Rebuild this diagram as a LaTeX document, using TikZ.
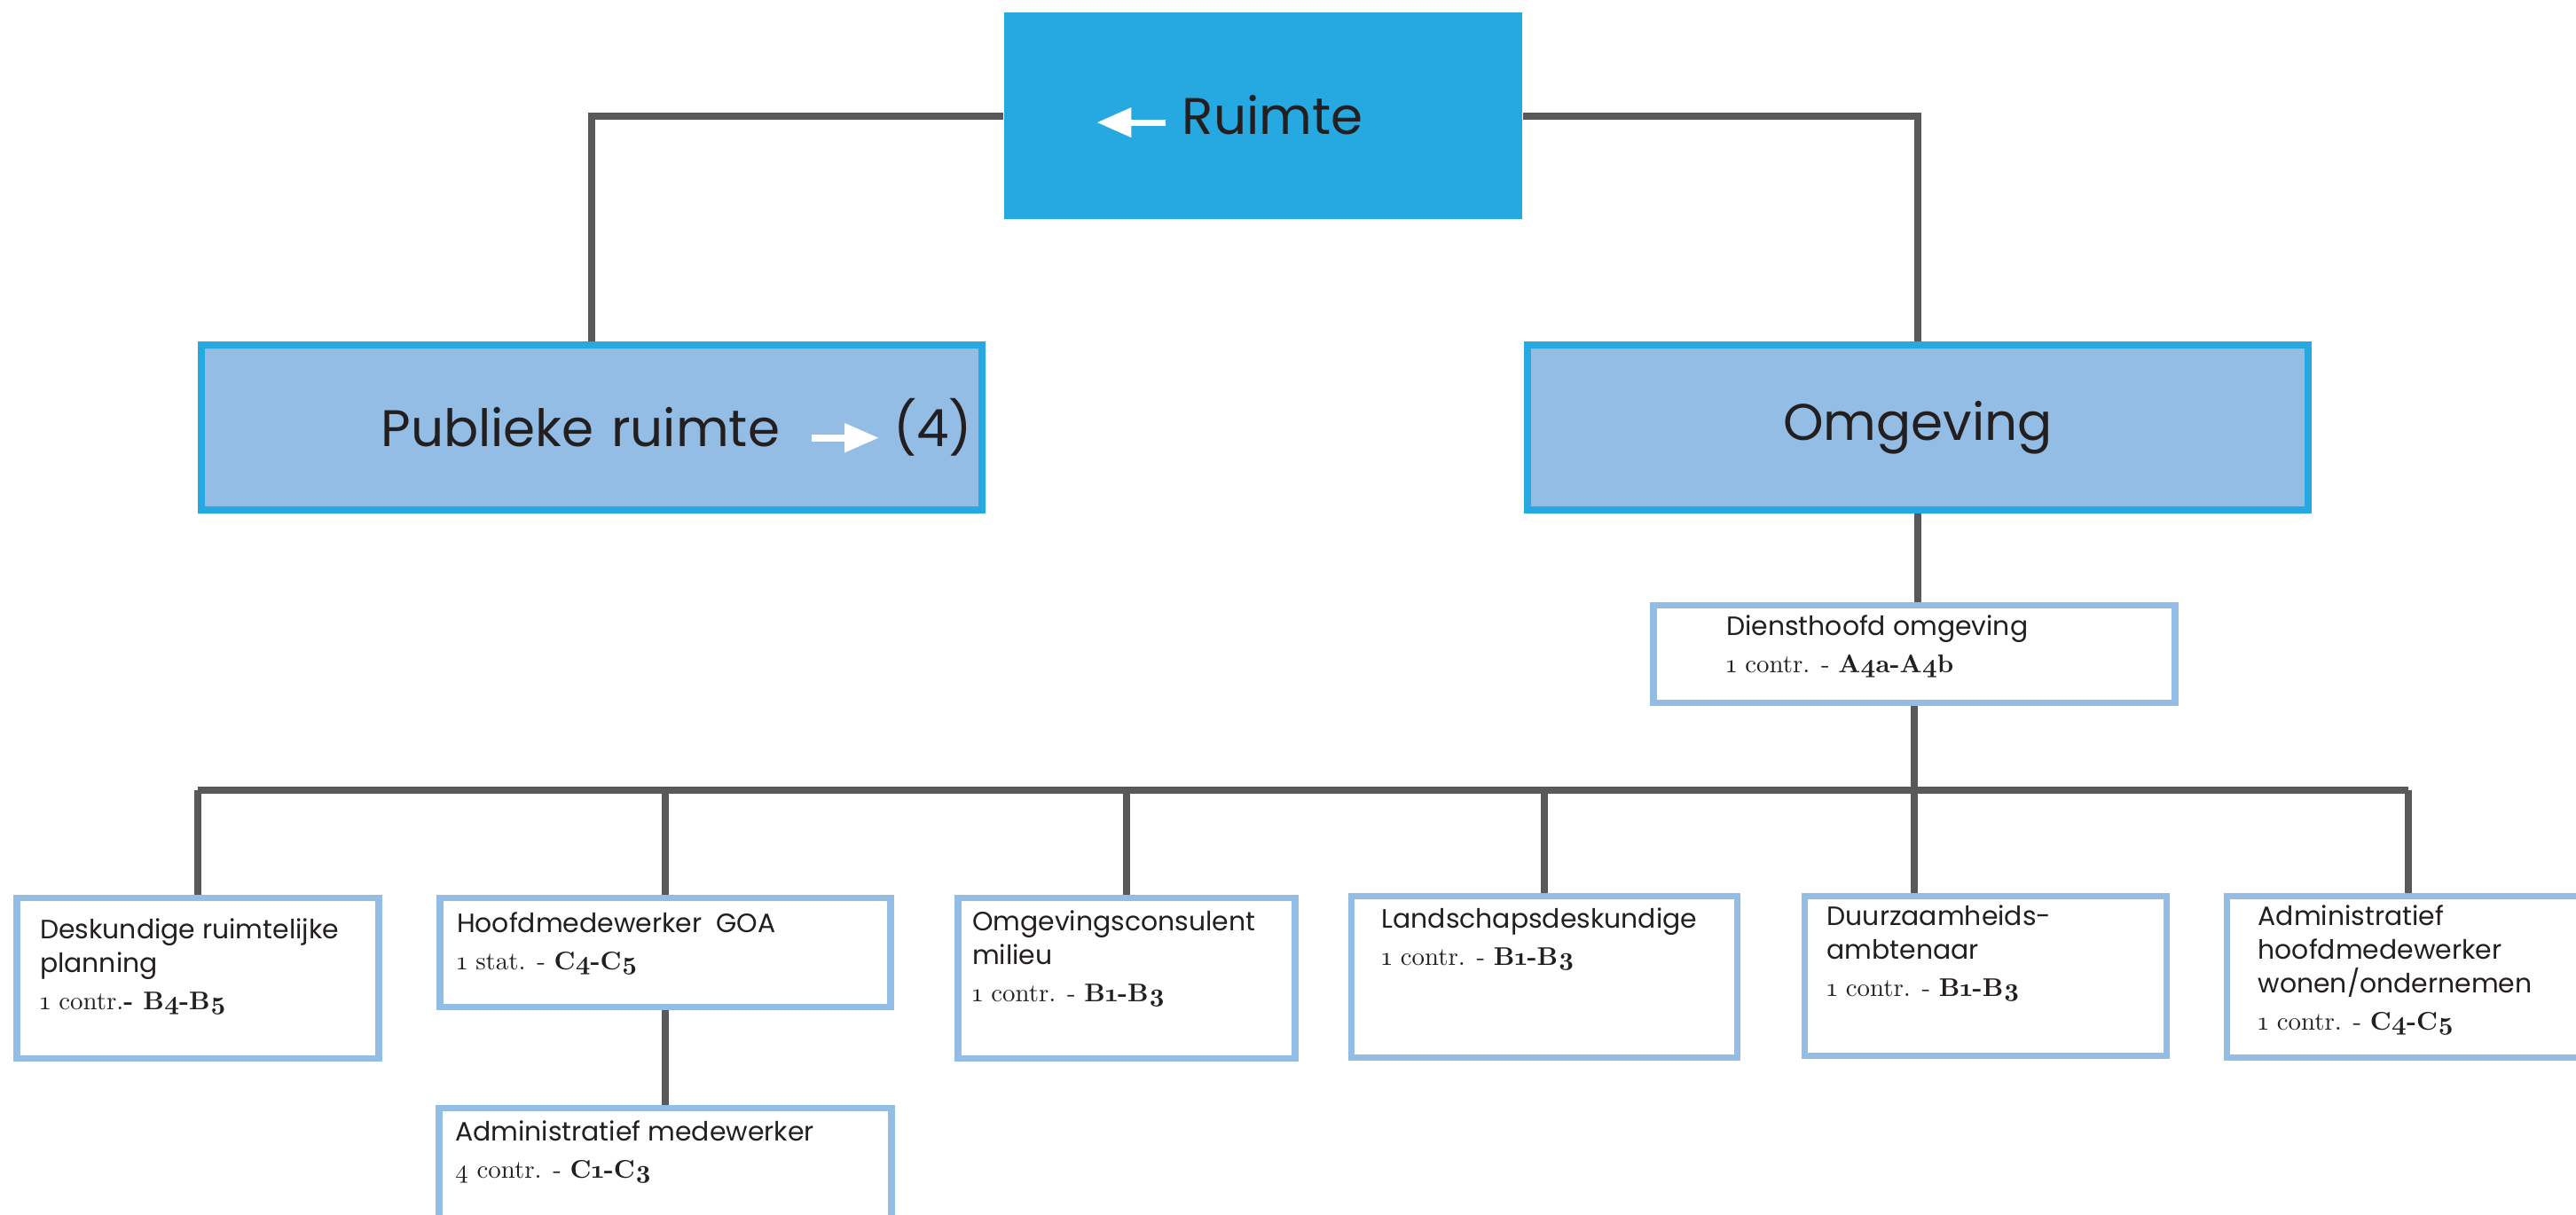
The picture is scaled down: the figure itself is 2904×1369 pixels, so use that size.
\documentclass[tikz,border=0pt]{standalone}
\usepackage{fontspec}
\setmainfont{Poppins}
\newfontfamily\slab[Numbers=OldStyle,BoldFont=lmroman10-bold.otf]{lmroman10-regular.otf}
\usetikzlibrary{positioning,backgrounds,arrows.meta}

\definecolor{cyanblue}{HTML}{25A9E0}
\definecolor{paleblue}{HTML}{93BDE5}
\definecolor{linegray}{HTML}{58595B}
\definecolor{inkdark}{HTML}{231F20}

\newcommand{\wlarrow}{\tikz[baseline=-0.13cm,x=1cm,y=1cm]\draw[white,line width=0.07cm,-{Triangle[length=0.39cm,width=0.32cm]}] (0.78,0) -- (0,0);}
\newcommand{\wrarrow}{\tikz[baseline=-0.10cm,x=1cm,y=1cm]\draw[white,line width=0.08cm,-{Triangle[length=0.39cm,width=0.31cm]}] (0,0) -- (0.76,0);}
\newcommand{\grade}[2]{{\slab\fontsize{8.2}{10.8}\selectfont #1\textbf{#2}}}

\begin{document}
\begin{tikzpicture}[x=0.01cm,y=-0.01cm]
        \tikzstyle{every node}+=[inner sep=0pt]
        \tikzstyle{conn}=[linegray,line width=0.08cm,line cap=square]
        \tikzstyle{unitbox}=[draw=cyanblue,line width=0.08cm,fill=paleblue,text=inkdark,font=\fontsize{16.5}{20}\selectfont,minimum width=8.80cm,minimum height=1.86cm]
        \tikzstyle{jobbox}=[draw=paleblue,line width=0.075cm,fill=white]
        \tikzstyle{jobtext}=[align=left,text=inkdark,font=\fontsize{8.5}{10.8}\selectfont,execute at begin node={\rule{0pt}{8pt}}]
        \useasboundingbox (0,0) rectangle (2904,1369);
        % top level
        \node[fill=cyanblue,minimum width=5.84cm,minimum height=2.33cm,text width=3.82cm,align=left,text=inkdark,font=\fontsize{16.5}{20}\selectfont] (ruimte) at (1424,130.5) {\wlarrow\hspace{0.15cm}Ruimte};
        \node[unitbox,text width=8.58cm,align=right] (pub) at (667,482) {Publieke ruimte\hspace{0.32cm}\wrarrow\hspace{0.12cm}(4)};
        \node[unitbox] (omg) at (2162,482) {Omgeving};
        % head of department
        \node[jobbox,minimum width=5.875cm,minimum height=1.095cm] (dh) at (2158,737.5) {};
        \node[jobtext,below right=0.14cm and 0.85cm of dh.north west] (dh-t) {Diensthoofd omgeving\\[1.2pt]\grade{1 contr. - }{A4a-A4b}};
        \coordinate (bus) at (1400,891);
        % staff
        \node[jobbox,minimum width=4.075cm,minimum height=1.805cm] (dk) at (223,1103) {};
        \node[jobtext,below right=0.26cm and 0.29cm of dk.north west] (dk-t) {Deskundige ruimtelijke\\planning\\[1.2pt]\grade{1 contr.}{- B4-B5}};
        \node[jobbox,minimum width=5.075cm,minimum height=1.225cm] (goa) at (750,1074) {};
        \node[jobtext,below right=0.19cm and 0.22cm of goa.north west] (goa-t) {Hoofdmedewerker\ \ GOA\\[1.2pt]\grade{1 stat. - }{C4-C5}};
        \node[jobbox,minimum width=3.795cm,minimum height=1.805cm] (oc) at (1270,1103) {};
        \node[jobtext,below right=0.17cm and 0.19cm of oc.north west] (oc-t) {Omgevingsconsulent\\milieu\\[1.2pt]\grade{1 contr. - }{B1-B3}};
        \node[jobbox,minimum width=4.345cm,minimum height=1.815cm] (ls) at (1741,1101.5) {};
        \node[jobtext,below right=0.16cm and 0.37cm of ls.north west] (ls-t) {Landschapsdeskundige\\[1.2pt]\grade{1 contr. - }{B1-B3}};
        \node[jobbox,minimum width=4.075cm,minimum height=1.795cm] (dz) at (2238.5,1100.5) {};
        \node[jobtext,below right=0.13cm and 0.28cm of dz.north west] (dz-t) {Duurzaamheids-\\ambtenaar\\[1.2pt]\grade{1 contr. - }{B1-B3}};
        \node[jobbox,minimum width=4.085cm,minimum height=1.815cm] (ah) at (2715,1101.5) {};
        \node[jobtext,below right=0.13cm and 0.38cm of ah.north west] (ah-t) {Administratief\\hoofdmedewerker\\wonen/ondernemen\\[1.2pt]\grade{1 contr. - }{C4-C5}};
        \node[jobbox,minimum width=5.095cm,minimum height=1.325cm] (am) at (750,1316) {};
        \node[jobtext,below right=0.17cm and 0.21cm of am.north west] (am-t) {Administratief medewerker\\[1.2pt]\grade{4 contr. - }{C1-C3}};
        % connectors
        \begin{scope}[on background layer]
        \fill[white] (0,0) rectangle (2904,1369);
        \draw[conn] (ruimte.west) -| (pub.north);
        \draw[conn] (ruimte.east) -| (omg.north);
        \draw[conn] (omg.south) -- (omg.south |- dh.north);
        \draw[conn] (dh.south) -- (dh.south |- dz.north);
        \draw[conn] (dk.north |- bus) -- (ah.north |- bus);
        \foreach \b in {dk,goa,oc,ls,ah}
          \draw[conn] (\b.north |- bus) -- (\b.north);
        \draw[conn] (goa.south) -- (am.north);
        \end{scope}
\end{tikzpicture}
\end{document}
